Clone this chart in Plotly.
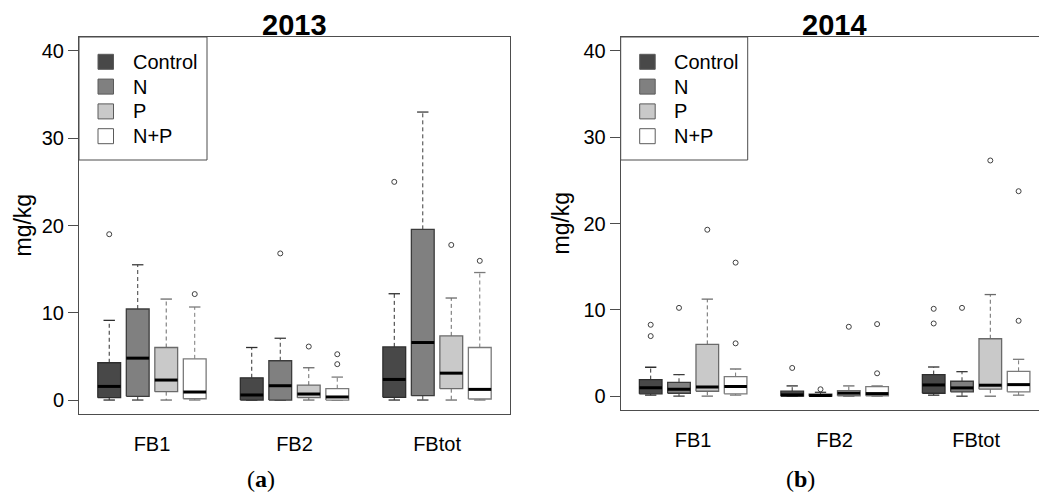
import plotly.graph_objects as go

W, H = 1039, 496

groups = ["FB1", "FB2", "FBtot"]
treatments = ["Control", "N", "P", "N+P"]
fills = ["#484848", "#808080", "#c9c9c9", "#ffffff"]
borders = ["#2e2e2e", "#3c3c3c", "#6a6a6a", "#7a7a7a"]

# order: FB1 (Control, N, P, N+P), FB2 (...), FBtot (...)
lo13 = [0.0, 0.0, 0.0, 0.0, 0.0, 0.0, 0.0, 0.0, 0.0, 0.0, 0.0, 0.0]
q1_13 = [0.27, 0.42, 0.96, 0.15, 0.0, 0.0, 0.27, 0.0, 0.31, 0.5, 1.3, 0.12]
med13 = [1.56, 4.8, 2.29, 0.92, 0.58, 1.64, 0.69, 0.35, 2.36, 6.59, 3.08, 1.22]
q3_13 = [4.27, 10.43, 6.02, 4.72, 2.55, 4.5, 1.71, 1.3, 6.09, 19.56, 7.35, 6.02]
hi13 = [9.13, 15.5, 11.57, 10.66, 6.02, 7.08, 3.7, 2.63, 12.18, 33.0, 11.69, 14.61]
out13 = [[19.0], [28.2], [], [12.14], [], [16.8], [6.13], [5.25, 4.11],
         [25.0], [], [17.77], [15.95]]

lo14 = [0.12, 0.0, 0.0, 0.12, 0.0, 0.0, 0.0, 0.0, 0.12, 0.0, 0.0, 0.12]
q1_14 = [0.27, 0.34, 0.57, 0.27, 0.0, 0.0, 0.05, 0.05, 0.34, 0.5, 0.81, 0.5]
med14 = [0.99, 0.8, 1.07, 1.11, 0.15, 0.08, 0.35, 0.3, 1.3, 0.96, 1.27, 1.34]
q3_14 = [1.92, 1.61, 6.0, 2.27, 0.58, 0.25, 0.65, 1.1, 2.5, 1.73, 6.65, 2.88]
hi14 = [3.35, 2.5, 11.23, 3.15, 1.19, 0.45, 1.19, 1.19, 3.38, 2.84, 11.77, 4.27]
out14 = [[8.27, 6.96], [10.23], [19.28], [15.47, 6.12],
         [3.27], [0.8], [8.04], [8.35, 2.65],
         [10.12, 8.42], [10.23], [27.3], [23.74, 8.73]]

y_ticks = [0, 10, 20, 30, 40]
titles = ["2013", "2014"]
captions = ["a", "b"]

BW = 0.8   # box width (x units)
FONT = "Liberation Sans, Arial, sans-serif"

fig = go.Figure()


def add_panel(lo, q1, med, q3, hi, outs, xa, ya):
    for t, name in enumerate(treatments):
        idx = [g * 4 + t for g in range(len(groups))]
        pos = [g * 5 + t + 1 for g in range(len(groups))]
        wx, wy, bx, by, mx, my, cx, cy, ox, oy = [], [], [], [], [], [], [], [], [], []
        for i, p in zip(idx, pos):
            wx += [p, p, None, p, p, None]
            wy += [q3[i], hi[i], None, q1[i], lo[i], None]
            cx += [p - BW / 4, p + BW / 4, None, p - BW / 4, p + BW / 4, None]
            cy += [hi[i], hi[i], None, lo[i], lo[i], None]
            bx += [p - BW / 2, p + BW / 2, p + BW / 2, p - BW / 2, p - BW / 2, None]
            by += [q1[i], q1[i], q3[i], q3[i], q1[i], None]
            mx += [p - BW / 2, p + BW / 2, None]
            my += [med[i], med[i], None]
            for o in outs[i]:
                ox.append(p)
                oy.append(o)
        common = dict(xaxis=xa, yaxis=ya, showlegend=False, hoverinfo="skip")
        fig.add_trace(go.Scatter(x=wx, y=wy, mode="lines",
                                 line=dict(color=borders[t], width=1, dash="4px,3px"),
                                 **common))
        fig.add_trace(go.Scatter(x=cx, y=cy, mode="lines",
                                 line=dict(color=borders[t], width=1.3), **common))
        fig.add_trace(go.Scatter(x=bx, y=by, mode="lines", fill="toself",
                                 fillcolor=fills[t],
                                 line=dict(color=borders[t], width=1.3), name=name,
                                 **common))
        fig.add_trace(go.Scatter(x=mx, y=my, mode="lines",
                                 line=dict(color="#000000", width=3), **common))
        fig.add_trace(go.Scatter(x=ox, y=oy, mode="markers",
                                 marker=dict(symbol="circle-open", size=5,
                                             color="#404040", line=dict(width=1)),
                                 **common))


add_panel(lo13, q1_13, med13, q3_13, hi13, out13, "x", "y")
add_panel(lo14, q1_14, med14, q3_14, hi14, out14, "x2", "y2")

# panel geometry (pixels)
L1, R1, T1, B1 = 79, 510, 37, 414
L2, R2, T2, B2 = 620.7, 1039, 37, 410
px2 = 28.3  # px per x unit in right panel

xcommon = dict(tickvals=[2.5, 7.5, 12.5], ticktext=groups, ticks="",
               showgrid=False, zeroline=False, showline=True, linecolor="#4d4d4d",
               linewidth=1, automargin=False,
               tickfont=dict(family=FONT, size=20, color="#000"),
               ticklabelstandoff=12)
ycommon = dict(tickvals=y_ticks, ticks="outside", ticklen=10, tickcolor="#4d4d4d",
               showgrid=False, zeroline=False, showline=True, linecolor="#4d4d4d",
               linewidth=1, range=[-1.6, 41.6], automargin=False,
               tickfont=dict(family=FONT, size=20, color="#000"))

fig.update_layout(
    template="none",
    width=W, height=H, margin=dict(l=0, r=0, t=0, b=0, autoexpand=False),
    paper_bgcolor="white", plot_bgcolor="white",
    xaxis=dict(domain=[L1 / W, R1 / W], range=[-0.06, 15.06], mirror=True,
               anchor="y", **xcommon),
    yaxis=dict(domain=[1 - B1 / H, 1 - T1 / H], mirror=True, anchor="x", **ycommon),
    xaxis2=dict(domain=[L2 / W, 1.0], range=[-0.06, -0.06 + (R2 - L2) / px2],
                mirror=True, anchor="y2", **xcommon),
    yaxis2=dict(domain=[1 - B2 / H, 1 - T2 / H], mirror=False, anchor="x2", **ycommon),
)

shapes = []
annotations = []


def pxx(x):
    return x / W


def pxy(y):
    return 1 - y / H


for k, (L, T, lw, B, tc) in enumerate([(L1, T1, 128, B1, 294.5),
                                        (L2, T2, 127, B2, 834)]):
    shapes.append(dict(type="rect", xref="paper", yref="paper",
                       x0=pxx(L), x1=pxx(L + lw), y0=pxy(T + 123), y1=pxy(T),
                       fillcolor="white", line=dict(color="#4d4d4d", width=1),
                       layer="above"))
    for j, name in enumerate(treatments):
        cy = T + 24.8 + j * 24.8
        shapes.append(dict(type="rect", xref="paper", yref="paper",
                           x0=pxx(L + 19), x1=pxx(L + 34.5),
                           y0=pxy(cy + 7.5), y1=pxy(cy - 7.5),
                           fillcolor=fills[j], line=dict(color="#5a5a5a", width=1),
                           layer="above"))
        annotations.append(dict(xref="paper", yref="paper", x=pxx(L + 51.5),
                                y=pxy(cy), text=name, showarrow=False,
                                xanchor="left", yanchor="middle",
                                font=dict(family=FONT, size=20, color="#000")))
    annotations.append(dict(xref="paper", yref="paper", x=pxx(tc), y=pxy(25),
                            text="<b>" + titles[k] + "</b>", showarrow=False,
                            xanchor="center", yanchor="middle",
                            font=dict(family=FONT, size=29, color="#000")))
    annotations.append(dict(xref="paper", yref="paper",
                            x=pxx([23, 560][k]), y=pxy((T + B) / 2),
                            text="mg/kg", textangle=-90, showarrow=False,
                            xanchor="center", yanchor="middle",
                            font=dict(family=FONT, size=23, color="#000")))
    annotations.append(dict(xref="paper", yref="paper", x=pxx([261, 800][k]),
                            y=pxy(479), text="(<b>" + captions[k] + "</b>)",
                            showarrow=False, xanchor="center", yanchor="middle",
                            font=dict(family="Liberation Serif, serif", size=24,
                                      color="#000")))

fig.update_layout(shapes=shapes, annotations=annotations)
fig.write_html("out.html", config={"displayModeBar": False},
               post_script="document.body.style.margin='0px';"
                           "document.body.style.padding='0px';"
                           "document.body.style.overflow='hidden';")
